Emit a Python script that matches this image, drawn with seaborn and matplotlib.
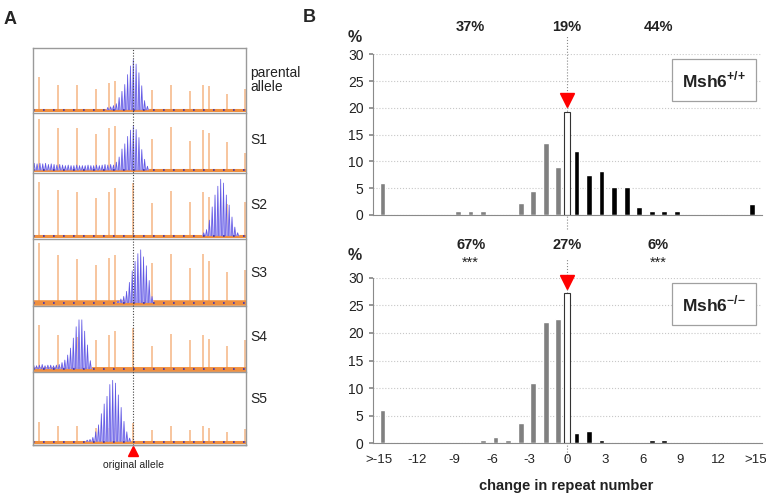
import numpy as np
import pandas as pd
import matplotlib.pyplot as plt
import seaborn as sns

# ---------------- data: panel B ----------------
changes = list(range(-15, 16))
tick_pos = [0, 3, 6, 9, 12, 15, 18, 21, 24, 27, 30]
tick_labels = ['>-15', '-12', '-9', '-6', '-3', '0', '3', '6', '9', '12', '>15']

# Msh6+/+
wt_change = [-15, -9, -8, -7, -4, -3, -2, -1, 0, 1, 2, 3, 4, 5, 6, 7, 8, 9, 15]
wt_pct = [6.0, 0.75, 0.75, 0.75, 2.2, 4.4, 13.4, 8.9, 19.3,
          11.9, 7.5, 8.2, 5.2, 5.2, 1.5, 0.75, 0.75, 0.75, 2.0]
wt_top = ['37%', '19%', '44%']

# Msh6-/-
ko_change = [-15, -7, -6, -5, -4, -3, -2, -1, 0, 1, 2, 3, 7, 8]
ko_pct = [6.0, 0.6, 1.2, 0.6, 3.6, 11.0, 22.0, 22.5, 27.2,
          1.8, 2.3, 0.6, 0.6, 0.6]
ko_top = ['67%', '27%', '6%']
ko_stars = ['***', '', '***']

# ---------------- data: panel A (electropherograms) ----------------
samples = ['parental\nallele', 'S1', 'S2', 'S3', 'S4', 'S5']
ladder_pos = [6.3, 25.3, 44, 63, 76, 82, 100.3, 119.3, 138.3, 157.3, 169.7, 175.7, 194.3, 212]
ladder_h = [
    [0.53, 0.41, 0.40, 0.34, 0.44, 0.46, 0, 0.32, 0.41, 0.31, 0.41, 0.38, 0.26, 0.33],
    [0.90, 0.73, 0.73, 0.63, 0.73, 0.77, 0, 0.55, 0.75, 0.51, 0.71, 0.65, 0.50, 0.30],
    [0.86, 0.73, 0.70, 0.60, 0.70, 0.76, 0.84, 0.53, 0.71, 0.54, 0.69, 0.62, 0.50, 0.54],
    [0.94, 0.75, 0.68, 0.60, 0.71, 0.75, 0, 0.63, 0.76, 0.55, 0.76, 0.66, 0.48, 0.52],
    [0.69, 0.54, 0.50, 0.46, 0.54, 0.60, 0.65, 0.37, 0.55, 0.46, 0.54, 0.48, 0.37, 0.46],
    [0.28, 0.23, 0.22, 0.20, 0.20, 0.20, 0.27, 0.17, 0.23, 0.16, 0.22, 0.20, 0.13, 0.18],
]
original_allele = 100.3
repeat_step = 2.83
peak_start = [74.8, 1.25, 170.7, 85.06, 0.72, 54.2]
peak_h = [
    [0.04, 0.05, 0.07, 0.1, 0.2, 0.3, 0.41, 0.57, 0.71, 0.81, 0.74, 0.6, 0.39, 0.15, 0.06],
    [0.12, 0.11, 0.12, 0.11, 0.12, 0.1, 0.11, 0.1, 0.09, 0.1, 0.09, 0.08, 0.09, 0.08,
     0.08, 0.09, 0.08, 0.08, 0.08, 0.09, 0.08, 0.08, 0.09, 0.08, 0.09, 0.1, 0.09,
     0.1, 0.09, 0.14, 0.23, 0.37, 0.46, 0.59, 0.7, 0.78, 0.71, 0.57, 0.36, 0.19, 0.07],
    [0.05, 0.1, 0.25, 0.46, 0.65, 0.79, 0.9, 0.84, 0.65, 0.49, 0.3, 0.14, 0.05],
    [0.03, 0.06, 0.1, 0.18, 0.32, 0.5, 0.65, 0.77, 0.83, 0.72, 0.58, 0.35, 0.1],
    [0.06, 0.05, 0.06, 0.07, 0.05, 0.06, 0.06, 0.05, 0.06,
     0.07, 0.1, 0.14, 0.22, 0.33, 0.49, 0.67, 0.78, 0.78, 0.6, 0.38, 0.13],
    [0.02, 0.03, 0.06, 0.14, 0.24, 0.4, 0.54, 0.65, 0.82, 0.88, 0.84, 0.67, 0.49, 0.29, 0.14, 0.05],
]

# ---------------- layout helpers ----------------
W, H = 766, 499
def box(l, t, r, b):
    return [l / W, 1 - b / H, (r - l) / W, (b - t) / H]
def ftext(x, y, s, **kw):
    fig.text(x / W, 1 - y / H, s, **kw)

sns.set_theme(style='white')
plt.rcParams['font.family'] = ['Liberation Sans', 'DejaVu Sans']
plt.rcParams['mathtext.fontset'] = 'custom'
plt.rcParams['mathtext.rm'] = 'Liberation Sans'
plt.rcParams['mathtext.bf'] = 'Liberation Sans:bold'

fig = plt.figure(figsize=(7.66, 4.99), dpi=100)

# ---------------- panel A ----------------
row_edges = [48, 113, 173, 239, 306, 372, 445]
baseline_lw = [2.2, 2.2, 2.2, 4.0, 3.5, 2.2]
label_y = [80, 140, 205, 273, 337, 399]
for i in range(6):
    ax = fig.add_axes(box(33, row_edges[i], 246, row_edges[i + 1]))
    ax.set_xlim(0, 213)
    ax.set_ylim(-0.05, 1)
    lh = np.array(ladder_h[i])
    lp = np.array(ladder_pos)
    keep = lh > 0
    ax.vlines(lp[keep], 0, lh[keep], color='#f7c096', lw=1.3, zorder=1)
    ax.axhline(0, color='#ef9040', lw=baseline_lw[i], zorder=2)
    for k, h in enumerate(peak_h[i]):
        p = peak_start[i] + k * repeat_step
        ax.fill([p - 2.0, p, p + 2.0], [0, h, 0], facecolor='#cdc9fa',
                edgecolor='none', alpha=0.85, zorder=3)
    for k, h in enumerate(peak_h[i]):
        p = peak_start[i] + k * repeat_step
        ax.plot([p - 0.8, p, p + 0.8], [0, h, 0], color='#6158e4', lw=0.55,
                zorder=4)
    ax.axhline(0, color='#3a2fb5', lw=1.2, ls=(0, (1, 5)), zorder=5)
    ax.set_xticks([])
    ax.set_yticks([])
    for s in ['top', 'left', 'right']:
        ax.spines[s].set_visible(False)
    ax.spines['bottom'].set_color('#9a9a9a')
    ax.spines['bottom'].set_linewidth(1.0)
    ax.patch.set_alpha(0)
    ftext(250, label_y[i], samples[i], fontsize=10, color='#222', va='center',
          linespacing=0.95)

frame = fig.add_axes(box(33, 48, 246, 445))
frame.set_xlim(0, 213)
frame.set_ylim(0, 1)
frame.patch.set_alpha(0)
frame.set_xticks([])
frame.set_yticks([])
for s in frame.spines.values():
    s.set_color('#9a9a9a')
    s.set_linewidth(1.0)
frame.axvline(original_allele, color='#444', lw=0.8, ls=(0, (1, 1.5)))
frame.plot(original_allele, -0.014, marker='^', color='red', ms=7, clip_on=False,
           transform=frame.get_xaxis_transform())
frame.text(original_allele, -0.05, 'original allele', ha='center', va='center',
           fontsize=7.5, color='#222', transform=frame.get_xaxis_transform())

ftext(4, 20, 'A', fontsize=13, fontweight='bold', va='center')
ftext(303, 18, 'B', fontsize=13, fontweight='bold', va='center')

# ---------------- panel B ----------------
palette = {'loss': '#808080', 'none': 'white', 'gain': 'black'}

def kind_of(c):
    return 'loss' if c < 0 else ('none' if c == 0 else 'gain')

def draw_hist(ax, ch, pct, label, show_xlabels):
    df = pd.DataFrame({'change': ch, 'pct': pct})
    df['kind'] = [kind_of(c) for c in ch]
    sns.barplot(data=df, x='change', y='pct', hue='kind', order=changes,
                hue_order=['gain', 'none', 'loss'], palette=palette,
                width=0.84, dodge=True, saturation=1, legend=False, ax=ax)
    for p in ax.patches:
        c = p.get_x() + p.get_width() / 2
        p.set_width(0.46)
        p.set_x(c - 0.23)
        if p.get_facecolor()[0] > 0.9:
            p.set_edgecolor('#333')
            p.set_linewidth(0.8)
    ax.set_xlim(-0.5, 30.5)
    ax.set_ylim(0, 30)
    ax.set_yticks(range(0, 31, 5))
    ax.yaxis.grid(True, color='#c8c8c8', ls=':', lw=0.8)
    ax.set_axisbelow(True)
    ax.set_xticks(tick_pos)
    ax.set_xticklabels(tick_labels if show_xlabels else [])
    ax.set_xticks(np.arange(-0.5, 31, 1), minor=True)
    ax.tick_params(axis='x', which='major', length=0, labelsize=9.5,
                   labelcolor='#222', pad=8)
    ax.tick_params(axis='x', which='minor', length=4, color='#8a8a8a', width=0.8)
    ax.tick_params(axis='y', length=3, color='#8a8a8a', labelsize=10,
                   labelcolor='#222', left=True)
    ax.set_xlabel('')
    ax.set_ylabel('')
    for s in ['top', 'right']:
        ax.spines[s].set_visible(False)
    for s in ['left', 'bottom']:
        ax.spines[s].set_color('#8a8a8a')
        ax.spines[s].set_linewidth(0.8)
    zero = changes.index(0)
    ax.plot([zero, zero], [-2.6, 33.5], color='#8a8a8a', lw=0.8, ls=':',
            clip_on=False, zorder=0)
    ax.plot(zero, pct[ch.index(0)] + 2.1, marker='v', color='red', ms=10,
            clip_on=False)
    ax.text(0.877, 0.84, label, transform=ax.transAxes, ha='center', va='center',
            fontsize=12.5, fontweight='bold', color='#222',
            bbox=dict(boxstyle='square,pad=0.6', facecolor='white',
                      edgecolor='#a0a0a0', lw=0.9))

ax1 = fig.add_axes(box(372.7, 54.3, 762, 215))
draw_hist(ax1, wt_change, wt_pct, r'Msh6$^{\mathbf{{+}/{+}}}$', False)
ax2 = fig.add_axes(box(372.7, 277.7, 762, 443.3))
draw_hist(ax2, ko_change, ko_pct, r'Msh6$^{\mathbf{{-}/{-}}}$', True)

label_x = [470.7, 567, 658]
for j in range(3):
    ftext(label_x[j], 27, wt_top[j], fontsize=10.5, fontweight='bold', ha='center',
          va='center', color='#222')
    ftext(label_x[j], 245, ko_top[j], fontsize=10.5, fontweight='bold', ha='center',
          va='center', color='#222')
    if ko_stars[j]:
        ftext(label_x[j], 263, ko_stars[j], fontsize=10.5, ha='center',
              va='center', color='#222')
ftext(355, 37, '%', fontsize=11.5, fontweight='bold', ha='center', va='center')
ftext(355, 256, '%', fontsize=11.5, fontweight='bold', ha='center', va='center')
ftext(566, 486, 'change in repeat number', fontsize=10.5, fontweight='bold',
      ha='center', va='center', color='#222')

fig.savefig('out.png', dpi=100)
